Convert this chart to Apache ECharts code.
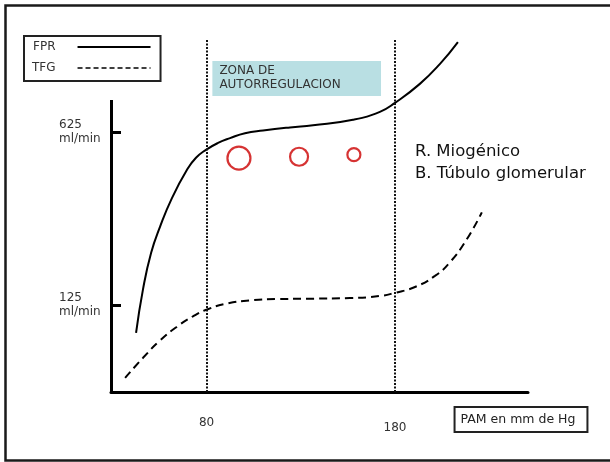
<!DOCTYPE html>
<html>
<head>
<meta charset="utf-8">
<script src="https://cdn.jsdelivr.net/npm/echarts@6/dist/echarts.min.js"></script>
<style>
html, body { margin: 0; padding: 0; background: #fff; }
#chart { width: 610px; height: 462px; }
</style>
</head>
<body>
<div id="chart"></div>
<script>
// valores: PAM (mm Hg) en x, flujo (ml/min) en y
const fprPam = [42.6, 46.3, 50.6, 55.3, 61.7, 69.7, 74.4, 79.7, 86.1, 92.5, 100.4, 110, 124.3, 136.5, 157.7, 172, 180, 193.2, 203.9, 213.4]
const fprFlow = [44, 171, 276, 351, 435, 517, 551, 574, 594, 608, 622, 630, 639, 645, 661, 684, 710, 765, 823, 886]
const tfgPam = [36.8, 46.3, 55.3, 64.3, 72.8, 80.3, 90.9, 103.1, 117.4, 133.3, 156.1, 172, 180, 190.6, 201.2, 209.1, 218.1, 226.1]
const tfgFlow = [-86, -28, 22, 62, 92, 112, 129, 138, 142, 143, 145, 151, 160, 177, 209, 248, 315, 393]
const yTicks = [125, 625]
const xTicks = [80, 180]
const zonaPam = [83.1, 172.6]
const zonaFlow = [730, 831]
const circlePam = [97.2, 129.1, 158.2]
const circleFlow = [550, 554, 560]

const xMin = 29.3, xMax = 250.6
const yMin = -127, yMax = 892
const circleSizes = [23, 18, 13]
const font = 'DejaVu Sans'

let chart = echarts.init(document.getElementById('chart'))

let dotted = { color: '#111', width: 2, type: [2, 1.5] }

let option = {
  animation: false,
  grid: { left: 111, right: 82, top: 40, bottom: 70 },
  legend: {
    left: 24,
    top: 36,
    orient: 'vertical',
    align: 'right',
    itemWidth: 73,
    itemHeight: 12,
    itemGap: 9,
    padding: [5, 9, 7, 8],
    borderColor: '#222',
    borderWidth: 2,
    selectedMode: false,
    itemStyle: { opacity: 0 },
    textStyle: { fontFamily: font, fontSize: 12, color: '#333', padding: [0, 17, 0, 0] },
    data: [
      { name: 'FPR' },
      { name: 'TFG', lineStyle: { type: [5, 3], width: 1.5 } }
    ]
  },
  xAxis: {
    type: 'value',
    min: xMin,
    max: xMax,
    splitLine: { show: false },
    axisTick: { show: false },
    axisLine: { onZero: false, lineStyle: { color: '#000', width: 3 } },
    axisLabel: {
      customValues: xTicks,
      margin: 25,
      formatter: v => v === 180 ? '{low|' + v + '}' : '{hi|' + v + '}',
      rich: {
        hi: { fontFamily: font, fontSize: 12, color: '#333' },
        low: { fontFamily: font, fontSize: 12, color: '#333', padding: [5, 0, 0, 0] }
      }
    },
    name: '{box|PAM en mm de Hg}',
    nameLocation: 'end',
    nameGap: -7,
    nameTextStyle: {
      align: 'center',
      verticalAlign: 'top',
      padding: [15, 0, 0, 0],
      rich: {
        box: {
          fontFamily: font, fontSize: 12.5, color: '#222',
          borderColor: '#222', borderWidth: 2, padding: [6, 12, 6, 6]
        }
      }
    }
  },
  yAxis: {
    type: 'value',
    min: yMin,
    max: yMax,
    splitLine: { show: false },
    axisLine: { show: false },
    axisTick: { show: true, inside: true, length: 10, customValues: yTicks, lineStyle: { color: '#000', width: 3 } },
    axisLabel: {
      customValues: yTicks,
      align: 'left',
      margin: 52,
      lineHeight: 14,
      fontFamily: font,
      fontSize: 12,
      color: '#333',
      formatter: v => v + '\nml/min'
    }
  },
  graphic: [
    {
      type: 'rect',
      shape: { x: 5.5, y: 5.5, width: 640, height: 455 },
      style: { fill: 'none', stroke: '#1a1a1a', lineWidth: 2.5 },
      silent: true
    },
    {
      type: 'text', left: 415, top: 143,
      style: { text: 'R. Miogénico', font: '16.5px "DejaVu Sans"', fill: '#111' }
    },
    {
      type: 'text', left: 415, top: 165,
      style: { text: 'B. Túbulo glomerular', font: '16.5px "DejaVu Sans"', fill: '#111' }
    }
  ],
  series: [
    {
      name: 'FPR',
      type: 'line',
      smooth: 0.5,
      symbol: 'none',
      lineStyle: { color: '#000', width: 2 },
      data: fprPam.map((x, i) => [x, fprFlow[i]]),
      markLine: {
        silent: true,
        symbol: ['none', 'none'],
        label: { show: false },
        data: [
          { xAxis: xTicks[0], lineStyle: dotted },
          { xAxis: xTicks[1], lineStyle: dotted },
          // eje vertical (más corto que la rejilla)
          [
            { coord: [xMin, yMin], lineStyle: { color: '#000', width: 3, type: 'solid' } },
            { coord: [xMin, 718] }
          ]
        ]
      },
      markArea: {
        silent: true,
        itemStyle: { color: '#b9dfe3' },
        label: {
          show: true,
          position: 'insideTopLeft',
          formatter: 'ZONA DE\nAUTORREGULACION',
          fontFamily: font,
          fontSize: 12,
          lineHeight: 14,
          color: '#333',
          offset: [2, -2]
        },
        data: [[
          { coord: [zonaPam[0], zonaFlow[1]] },
          { coord: [zonaPam[1], zonaFlow[0]] }
        ]]
      }
    },
    {
      name: 'TFG',
      type: 'line',
      smooth: 0.5,
      symbol: 'none',
      lineStyle: { color: '#000', width: 2, type: [8, 5] },
      data: tfgPam.map((x, i) => [x, tfgFlow[i]])
    },
    {
      type: 'scatter',
      silent: true,
      symbolSize: (v, p) => circleSizes[p.dataIndex],
      itemStyle: { color: 'rgba(0,0,0,0)', borderColor: '#cc0000', borderWidth: 2.2 },
      data: circlePam.map((x, i) => [x, circleFlow[i]])
    }
  ]
}

chart.setOption(option)
window.addEventListener('resize', () => {
  chart.resize()
})
</script>
</body>
</html>
